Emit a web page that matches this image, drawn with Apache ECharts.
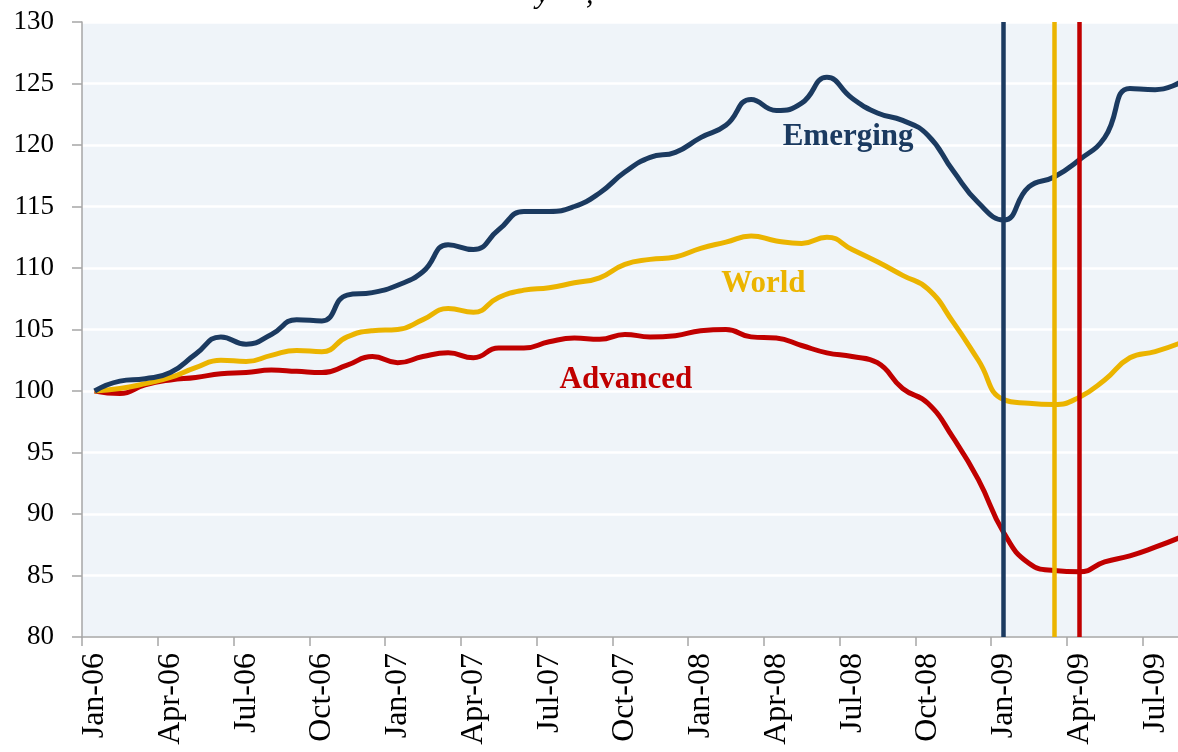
<!DOCTYPE html>
<html>
<head>
<meta charset="utf-8">
<script src="https://cdn.jsdelivr.net/npm/echarts@6/dist/echarts.min.js"></script>
<style>
html,body{margin:0;padding:0;background:#fff;overflow:hidden;width:1178px;height:752px;}
#main{width:1193px;height:752px;}
</style>
</head>
<body>
<div id="main"></div>
<script>
var months = ['Jan-06','Feb-06','Mar-06','Apr-06','May-06','Jun-06','Jul-06','Aug-06','Sep-06','Oct-06','Nov-06','Dec-06',
  'Jan-07','Feb-07','Mar-07','Apr-07','May-07','Jun-07','Jul-07','Aug-07','Sep-07','Oct-07','Nov-07','Dec-07',
  'Jan-08','Feb-08','Mar-08','Apr-08','May-08','Jun-08','Jul-08','Aug-08','Sep-08','Oct-08','Nov-08','Dec-08',
  'Jan-09','Feb-09','Mar-09','Apr-09','May-09','Jun-09','Jul-09','Aug-09'];

var emerging = [100.0,100.8,101.0,101.5,103.0,104.4,103.8,104.6,105.8,105.7,107.8,108.0,
  108.6,109.7,111.9,111.5,113.1,114.6,114.6,115.0,116.1,117.8,119.0,119.4,
  120.6,121.6,123.7,122.8,123.4,125.5,123.8,122.6,122.0,120.8,117.9,115.3,
  113.9,116.6,117.4,118.8,120.6,124.6,124.5,125.1];

var world = [100.0,100.2,100.6,101.1,101.9,102.5,102.4,102.9,103.3,103.2,104.4,104.9,
  105.0,105.8,106.7,106.4,107.6,108.2,108.4,108.8,109.2,110.3,110.7,110.9,
  111.6,112.1,112.6,112.2,112.0,112.5,111.5,110.5,109.4,108.3,105.6,102.5,
  99.3,99.0,98.9,99.5,100.9,102.7,103.2,103.9];

var advanced = [100.0,99.8,100.5,100.9,101.1,101.4,101.5,101.7,101.6,101.5,102.1,102.8,
  102.3,102.8,103.1,102.7,103.5,103.5,104.0,104.3,104.2,104.6,104.4,104.5,
  104.9,105.0,104.4,104.3,103.7,103.1,102.8,102.3,100.2,99.0,96.2,92.8,
  88.5,86.0,85.4,85.3,86.1,86.6,87.3,88.1];

// trough months marked by vertical lines: Emerging, World, Advanced
var troughs = ['Jan-09','Mar-09','Apr-09'];

var NAVY = '#1B3A60', GOLD = '#EBB400', RED = '#C00000';
var SERIF = '"Liberation Serif","DejaVu Serif",serif';

var chart = echarts.init(document.getElementById('main'), null, {renderer:'canvas'});

function labelPoint(name, month, value, color, offset) {
  return {
    data: [{
      coord: [month, value],
      symbol: 'circle', symbolSize: 0,
      label: {
        show: true, formatter: name, position: 'inside', offset: offset,
        color: color, fontFamily: SERIF, fontWeight: 'bold', fontSize: 31
      }
    }],
    silent: true
  };
}

var option = {
  animation: false,
  backgroundColor: '#ffffff',
  grid: {
    left: 82, top: 22, right: 0, bottom: 115,
    show: true, backgroundColor: '#EFF4F9', borderWidth: 0
  },
  graphic: [
    { type: 'text', left: 536, top: -20,
      style: { text: 'y', fontFamily: SERIF, fontStyle: 'italic', fontSize: 30, fill: '#000' } },
    { type: 'text', left: 586, top: -20,
      style: { text: ',', fontFamily: SERIF, fontStyle: 'italic', fontSize: 30, fill: '#000' } }
  ],
  xAxis: {
    type: 'category', data: months, boundaryGap: true,
    axisLine: { show: true, lineStyle: { color: '#A6A6A6', width: 1.5 } },
    axisTick: { show: true, interval: 2, length: 9, lineStyle: { color: '#A6A6A6', width: 1.5 } },
    axisLabel: { interval: 2, rotate: 90, margin: 16, color: '#000', fontFamily: SERIF, fontSize: 32 },
    splitLine: { show: false }
  },
  yAxis: {
    type: 'value', min: 80, max: 130, interval: 5,
    axisLine: { show: true, lineStyle: { color: '#A6A6A6', width: 1.5 } },
    axisTick: { show: true, length: 10, lineStyle: { color: '#A6A6A6', width: 1.5 } },
    axisLabel: { margin: 28, color: '#000', fontFamily: SERIF, fontSize: 27 },
    splitLine: { show: true, lineStyle: { color: '#FFFFFF', width: 2.5 } }
  },
  series: [
    {
      name: 'Advanced', type: 'line', data: advanced, smooth: true, showSymbol: false,
      lineStyle: { color: RED, width: 5 }, itemStyle: { color: RED },
      markPoint: labelPoint('Advanced', 'Oct-07', 100.9, RED, [1, 0])
    },
    {
      name: 'World', type: 'line', data: world, smooth: true, showSymbol: false,
      lineStyle: { color: GOLD, width: 5 }, itemStyle: { color: GOLD },
      markPoint: labelPoint('World', 'Apr-08', 108.7, GOLD, [-13, 0])
    },
    {
      name: 'Emerging', type: 'line', data: emerging, smooth: true, showSymbol: false,
      lineStyle: { color: NAVY, width: 5 }, itemStyle: { color: NAVY },
      markPoint: labelPoint('Emerging', 'Jul-08', 120.65, NAVY, [-4, 0]),
      markLine: {
        silent: true, symbol: ['none', 'none'], label: { show: false },
        data: [
          { xAxis: troughs[0], lineStyle: { color: NAVY, width: 4.5, type: 'solid' } },
          { xAxis: troughs[1], lineStyle: { color: GOLD, width: 4.5, type: 'solid' } },
          { xAxis: troughs[2], lineStyle: { color: RED, width: 4.5, type: 'solid' } }
        ]
      }
    }
  ]
};
chart.setOption(option);
</script>
</body>
</html>
